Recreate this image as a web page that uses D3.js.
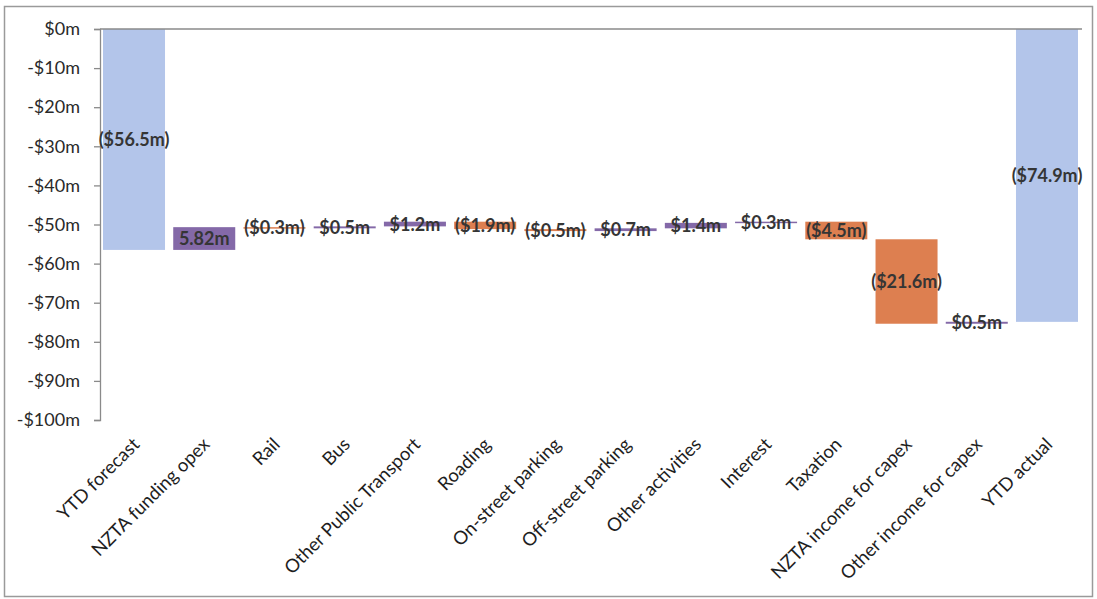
<!DOCTYPE html>
<html><head><meta charset="utf-8">
<script src="https://cdn.jsdelivr.net/npm/d3@7"></script>
<style>html,body{margin:0;padding:0;background:#fff;}svg{display:block;}</style>
</head><body>
<svg id="c" width="1097" height="599"></svg>
<script>
const categories = ["YTD forecast","NZTA funding opex","Rail","Bus","Other Public Transport","Roading","On-street parking","Off-street parking","Other activities","Interest","Taxation","NZTA income for capex","Other income for capex","YTD actual"];
const changes = [-56.5, 5.82, -0.3, 0.5, 1.2, -1.9, -0.5, 0.7, 1.4, 0.3, -4.5, -21.6, 0.5, -74.9];
const isTotal = [true,false,false,false,false,false,false,false,false,false,false,false,false,true];
const valueLabels = ["($56.5m)","5.82m","($0.3m)","$0.5m","$1.2m","($1.9m)","($0.5m)","$0.7m","$1.4m","$0.3m","($4.5m)","($21.6m)","$0.5m","($74.9m)"];
const yTicks = [0,-10,-20,-30,-40,-50,-60,-70,-80,-90,-100];
const yTickLabels = ["$0m","-$10m","-$20m","-$30m","-$40m","-$50m","-$60m","-$70m","-$80m","-$90m","-$100m"];

const colors = {total:"#b3c5ea", up:"#8469a8", down:"#dd7f50"};
const svg = d3.select("#c");
const font = "Lato, 'Open Sans', sans-serif";

svg.append("rect").attr("x",4.5).attr("y",6.5).attr("width",1088).attr("height",590)
  .attr("fill","#fff").attr("stroke","#9a9a9a").attr("stroke-width",1.5);

const x = d3.scaleBand().domain(categories).range([99,1082]).paddingInner(0.117).paddingOuter(0.057);
const y = d3.scaleLinear().domain([-100,0]).range([420,29]);

let run = 0;
const segs = categories.map((c,i)=>{
  let a,b;
  if(isTotal[i]){ a=0; b=changes[i]; run=changes[i]; }
  else { a=run; b=run+changes[i]; run=b; }
  return {c, a, b, v:changes[i], total:isTotal[i], label:valueLabels[i]};
});

svg.append("g").selectAll("rect").data(segs).join("rect")
  .attr("x",d=>x(d.c)).attr("width",x.bandwidth())
  .attr("y",d=>y(Math.max(d.a,d.b)))
  .attr("height",d=>Math.max(1.5, Math.abs(y(d.a)-y(d.b))))
  .attr("fill",d=>d.total?colors.total:(d.v>0?colors.up:colors.down));

const yAxis = d3.axisLeft(y).tickValues(yTicks).tickFormat((d,i)=>yTickLabels[i]).tickSize(6).tickPadding(14);
const ga = svg.append("g").attr("transform","translate(100,0)").call(yAxis);
ga.select(".domain").attr("stroke","#8a8a8a").attr("stroke-width",1.3);
ga.selectAll(".tick line").attr("stroke","#8a8a8a").attr("stroke-width",1.3);
ga.selectAll(".tick text").attr("fill","#2a2a2a").style("font-family",font).style("font-size","18px");

svg.append("line").attr("x1",100).attr("x2",1082).attr("y1",y(0)).attr("y2",y(0))
  .attr("stroke","#8a8a8a").attr("stroke-width",1.5);

svg.append("g").selectAll("text").data(segs).join("text")
  .attr("x",d=>x(d.c)+x.bandwidth()/2)
  .attr("y",d=>(y(d.a)+y(d.b))/2)
  .attr("dy","0.36em")
  .attr("text-anchor","middle")
  .attr("fill","#353535")
  .style("font-family",font).style("font-weight","bold").style("font-size","18px")
  .text(d=>d.label);

svg.append("g").selectAll("text").data(categories).join("text")
  .attr("transform",d=>`translate(${x(d)+x.bandwidth()/2+2},441) rotate(-45)`)
  .attr("text-anchor","end")
  .attr("dy","0.35em")
  .attr("fill","#1e1e1e")
  .style("font-family",font).style("font-size","18.5px")
  .text(d=>d);
</script>
</body></html>
